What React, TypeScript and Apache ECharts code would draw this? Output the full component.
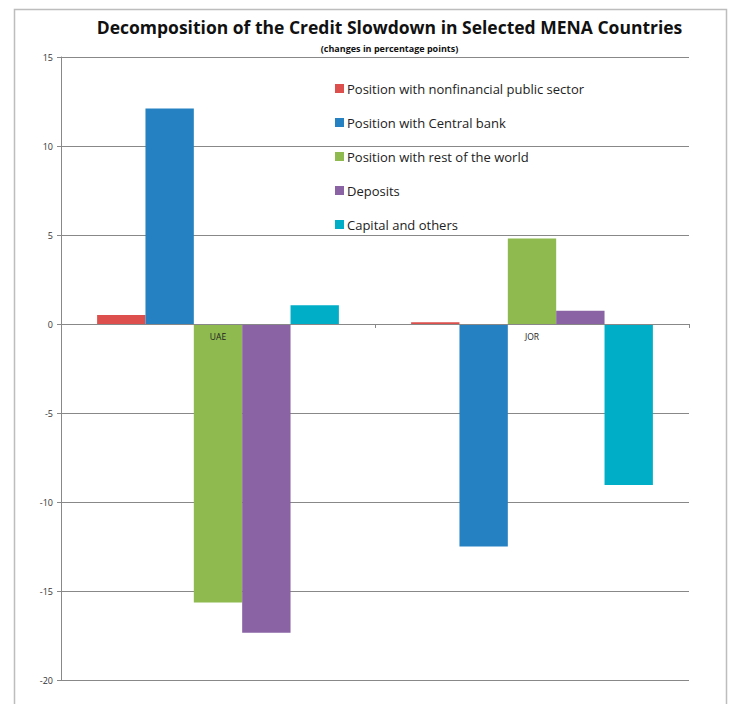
import React, { useEffect, useRef } from "react";
import * as echarts from "echarts";

const categories = ["UAE", "JOR"];
const seriesNames = [
  "Position with nonfinancial public sector",
  "Position with Central bank",
  "Position with rest of the world",
  "Deposits",
  "Capital and others",
];
const nonfinancial = [0.5, 0.1];
const centralBank = [12.1, -12.5];
const restOfWorld = [-15.65, 4.8];
const deposits = [-17.35, 0.75];
const capital = [1.05, -9.05];
const colors = ["#DC4F4C", "#2581C1", "#8EBA4F", "#8963A4", "#00AEC8"];

const FONT = "'Open Sans', Lato, sans-serif";

export default function App() {
  const ref = useRef<HTMLDivElement>(null);
  useEffect(() => {
    if (!ref.current) return;
    const chart = echarts.init(ref.current, null, { renderer: "svg" });
    const values = [nonfinancial, centralBank, restOfWorld, deposits, capital];
    chart.setOption({
      animation: false,
      backgroundColor: "#fff",
      textStyle: { fontFamily: FONT },
      title: [
        {
          text: "Decomposition of the Credit Slowdown in Selected MENA Countries",
          left: 384.5,
          textAlign: "center",
          top: 13,
          textStyle: { fontSize: 17.5, fontWeight: "bold", color: "#111", fontFamily: FONT },
        },
        {
          text: "(changes in percentage points)",
          left: 384.5,
          textAlign: "center",
          top: 39,
          textStyle: { fontSize: 9, fontWeight: "bold", color: "#111", fontFamily: FONT },
        },
      ],
      graphic: [
        {
          type: "rect",
          shape: { x: 14.5, y: 9.5, width: 712, height: 710 },
          style: { fill: "none", stroke: "#BDBDBD", lineWidth: 1.5 },
          silent: true,
          z: -1,
        },
      ],
      legend: {
        orient: "vertical",
        left: 330,
        top: 77,
        itemGap: 21,
        itemWidth: 9,
        itemHeight: 9,
        icon: "rect",
        textStyle: { fontSize: 13, color: "#222", fontFamily: FONT, padding: [0, 0, 0, -2] },
        data: seriesNames,
      },
      grid: { left: 61, right: 43, top: 57, bottom: 24, containLabel: false },
      xAxis: {
        type: "category",
        data: categories,
        z: 10,
        position: "bottom",
        offset: -356,
        axisLine: { onZero: false, lineStyle: { color: "#888", width: 1 } },
        axisTick: { show: true, length: 4, lineStyle: { color: "#888" }, alignWithLabel: false },
        axisLabel: { fontSize: 8.5, color: "#222", margin: 8, fontFamily: FONT },
        splitLine: { show: false },
      },
      yAxis: {
        type: "value",
        min: -20,
        max: 15,
        interval: 5,
        axisLine: { show: true, lineStyle: { color: "#888" } },
        axisTick: { show: true, length: 4, lineStyle: { color: "#888" } },
        axisLabel: { fontSize: 9, color: "#333", margin: 8, fontFamily: FONT },
        splitLine: { show: true, lineStyle: { color: "#888", width: 1 } },
      },
      series: seriesNames.map((name, i) => ({
        name,
        type: "bar",
        data: values[i],
        barGap: "0%",
        barCategoryGap: "23%",
        itemStyle: { color: colors[i] },
      })),
    });
    return () => chart.dispose();
  }, []);
  return (
    <div
      ref={ref}
      style={{ position: "absolute", left: 0, top: 0, width: 732, height: 704 }}
    />
  );
}
